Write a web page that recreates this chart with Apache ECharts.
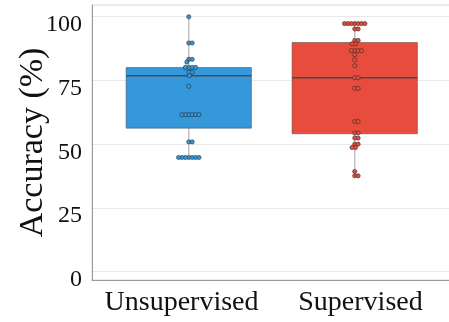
<!DOCTYPE html>
<html><head><meta charset="utf-8">
<script src="https://cdn.jsdelivr.net/npm/echarts@6/dist/echarts.min.js"></script>
<style>html,body{margin:0;padding:0;background:#fff}#c{width:449px;height:322px}</style>
</head><body><div id="c"></div>
<script>
// ---- data ----
const categories = ['Unsupervised', 'Supervised'];
const yTicks = [0, 25, 50, 75, 100];
// box statistics: [lower whisker, Q1, median, Q3, upper whisker]
const unsupBox = [44.8, 56.3, 76.9, 80.1, 100];
const supBox = [37.6, 54.1, 76.1, 89.9, 97.3];
// individual points (swarm)
const unsupPoints = [100, 89.7, 89.7, 83.3, 83.3, 82.2, 80.1, 80.1, 80.1, 80.1, 78.2, 78.2, 76.9, 72.7,
  61.6, 61.6, 61.6, 61.6, 61.6, 61.6, 50.9, 50.9, 44.8, 44.8, 44.8, 44.8, 44.8, 44.8, 44.8];
const supPoints = [97.3, 97.3, 97.3, 97.3, 97.3, 97.3, 97.3, 95.2, 95.2, 90.7, 90.7, 89.4, 89.4,
  86.7, 86.7, 86.7, 86.7, 85.1, 83.1, 80.8, 76.1, 76.1, 71.9, 71.9, 58.9, 58.9, 54.4, 54.4,
  52.4, 52.4, 50.0, 50.0, 48.7, 48.7, 39.3, 37.6, 37.6];

// ---- style / layout ----
const colors = ['#3498db', '#e74c3c'];
const FONT = "Liberation Serif";
const BOX_WIDTH = 0.755;
const X_MIN = -0.583, X_MAX = 1.574;
const Y_MIN = -3.25, Y_MAX = 104.6;
const DOT = 4.2, SWARM_D = 3.4;

const chart = echarts.init(document.getElementById('c'), null, {renderer: 'canvas'});

function renderBox(params, api) {
  const i = api.value(0);
  const c = api.coord([i, api.value(3)]);
  const yLo = api.coord([i, api.value(1)])[1];
  const yQ1 = api.coord([i, api.value(2)])[1];
  const yMed = c[1];
  const yQ3 = api.coord([i, api.value(4)])[1];
  const yHi = api.coord([i, api.value(5)])[1];
  const hw = api.size([BOX_WIDTH, 0])[0] / 2;
  const col = colors[params.dataIndex];
  return {type: 'group', children: [
    {type: 'line', shape: {x1: c[0], y1: yHi, x2: c[0], y2: yLo}, style: {stroke: '#c2c2c2', lineWidth: 1.5}},
    {type: 'rect', shape: {x: c[0] - hw, y: yQ3, width: 2 * hw, height: yQ1 - yQ3},
      style: {fill: col, stroke: 'rgba(70,70,70,0.5)', lineWidth: 1}},
    {type: 'line', shape: {x1: c[0] - hw, y1: yMed, x2: c[0] + hw, y2: yMed}, style: {stroke: '#4a4a4a', lineWidth: 1.5}}
  ]};
}

function baseOption() {
  return {
    animation: false,
    grid: {left: 92, right: -1, top: 5, bottom: 42, show: true, borderColor: '#d6d6d6', borderWidth: 1,
      backgroundColor: 'transparent', containLabel: false, outerBoundsMode: 'none'},
    xAxis: [
      {type: 'category', data: categories, position: 'bottom',
        axisLine: {show: true, onZero: false, lineStyle: {color: '#9a9a9a', width: 1}},
        axisTick: {show: false},
        axisLabel: {fontFamily: FONT, fontSize: 28, color: '#111', margin: 9, interval: 0},
        splitLine: {show: false}},
      {type: 'value', min: X_MIN, max: X_MAX, show: false, splitLine: {show: false},
        axisLine: {show: false, onZero: false}}
    ],
    yAxis: {
      type: 'value', min: Y_MIN, max: Y_MAX,
      name: 'Accuracy (%)', nameLocation: 'middle', nameGap: 42, nameMoveOverlap: false,
      nameTextStyle: {fontFamily: FONT, fontSize: 34, color: '#111'},
      axisLine: {show: true, onZero: false, lineStyle: {color: '#9a9a9a', width: 1}},
      axisTick: {show: false, customValues: yTicks},
      axisLabel: {customValues: yTicks, fontFamily: FONT, fontSize: 24, color: '#111', margin: 10,
        verticalAlign: 'top', lineHeight: 16},
      splitLine: {show: true, lineStyle: {color: '#e9e9e9', width: 1}}
    },
    series: [
      {type: 'custom', xAxisIndex: 1, yAxisIndex: 0, renderItem: renderBox, z: 2,
        encode: {x: 0, y: [1, 2, 3, 4, 5]},
        data: [[0].concat(unsupBox), [1].concat(supBox)]},
      {type: 'scatter', xAxisIndex: 1, yAxisIndex: 0, z: 5, symbolSize: DOT, data: [],
        itemStyle: {color: colors[0], borderColor: '#2d2d2d', borderWidth: 0.6, opacity: 1}},
      {type: 'scatter', xAxisIndex: 1, yAxisIndex: 0, z: 5, symbolSize: DOT, data: [],
        itemStyle: {color: colors[1], borderColor: '#2d2d2d', borderWidth: 0.6, opacity: 1}}
    ]
  };
}

function swarmOffsets(ys, d) {
  const order = ys.map((y, i) => i).sort((a, b) => ys[a] - ys[b]);
  const placed = [];
  const off = new Array(ys.length).fill(0);
  for (const i of order) {
    const y = ys[i];
    const near = placed.filter(p => Math.abs(p.y - y) < d);
    const cands = [0];
    near.forEach(p => {
      const dx = Math.sqrt(d * d - (p.y - y) * (p.y - y));
      cands.push(p.x + dx, p.x - dx);
    });
    cands.sort((a, b) => (Math.abs(a) - Math.abs(b)) || (b - a));
    let x = 0;
    for (const c of cands) {
      if (near.every(p => (p.x - c) * (p.x - c) + (p.y - y) * (p.y - y) >= d * d - 1e-6)) { x = c; break; }
    }
    placed.push({x, y});
    off[i] = x;
  }
  return off;
}

chart.setOption(baseOption());

function pointsData(idx, vals) {
  const ys = vals.map(v => chart.convertToPixel({yAxisIndex: 0}, v));
  const offs = swarmOffsets(ys, SWARM_D);
  return vals.map((v, k) => ({value: [idx, v], symbolOffset: [offs[k], 0]}));
}

chart.setOption({series: [{}, {data: pointsData(0, unsupPoints)}, {data: pointsData(1, supPoints)}]});
</script>
</body></html>
